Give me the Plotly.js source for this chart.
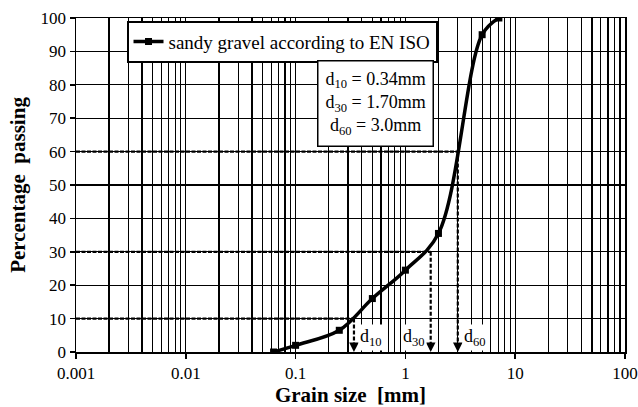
<!DOCTYPE html>
<html>
<head>
<meta charset="utf-8">
<script src="https://cdn.plot.ly/plotly-3.0.1.min.js"></script>
<style>html,body{margin:0;padding:0;background:#fff;}#chart{width:638px;height:407px;}</style>
</head>
<body>
<div id="chart"></div>
<script>
// Sieve data
const grainSize = [0.063, 0.1, 0.25, 0.5, 1, 2, 5, 7.1];
const passing = [0, 2, 6.5, 16, 24.5, 35.5, 95, 100];
const seriesName = 'sandy gravel according to EN ISO';

// Characteristic diameters
const dNames = ['d<sub>10</sub>', 'd<sub>30</sub>', 'd<sub>60</sub>'];
const dValues = [0.34, 1.7, 3.0];
const dLevels = [10, 30, 60];
const dTexts = ['0.34mm', '1.70mm', '3.0mm'];

const xTickVals = [0.001, 0.01, 0.1, 1, 10, 100];
const xTickText = ['0.001', '0.01', '0.1', '1', '10', '100'];

const FONT = 'Liberation Serif';

const traces = [];
// helper dashed lines (horizontal from the y axis, vertical down to the x axis)
dValues.forEach((d, i) => {
  traces.push({
    x: [0.001, d], y: [dLevels[i], dLevels[i]],
    mode: 'lines', line: {color: 'black', width: 2.2, dash: '4px,1.5px'},
    showlegend: false, hoverinfo: 'skip'
  });
  traces.push({
    x: [d, d], y: [dLevels[i], 1.5],
    mode: 'lines', line: {color: 'black', width: 2.2, dash: '4px,2px'},
    showlegend: false, hoverinfo: 'skip'
  });
});
traces.push({
  x: grainSize, y: passing, name: seriesName,
  mode: 'lines+markers',
  line: {color: 'black', width: 3.5, shape: 'spline', smoothing: 1},
  marker: {symbol: 'square', size: 7, color: 'black'}
});

const annotations = [];
dValues.forEach((d, i) => {
  annotations.push({
    x: Math.log10(d), y: 0, xref: 'x', yref: 'y',
    ax: 0, ay: -8, axref: 'pixel', ayref: 'pixel',
    text: '', showarrow: true, arrowhead: 2, arrowsize: 1.2, arrowwidth: 1.6, arrowcolor: 'black'
  });
  const right = (i === 1);
  annotations.push({
    x: Math.log10(d), y: 4.4, xref: 'x', yref: 'y',
    xanchor: right ? 'right' : 'left', yanchor: 'middle',
    xshift: right ? -4 : 4,
    text: dNames[i], showarrow: false, bgcolor: 'white',
    font: {family: FONT, size: 18, color: 'black'}
  });
});
annotations.push({
  x: 0.545, y: 0.7455, xref: 'paper', yref: 'paper',
  xanchor: 'center', yanchor: 'middle', showarrow: false, align: 'center',
  text: dNames.map((n, i) => n + ' = ' + dTexts[i]).join('<br>'),
  bgcolor: 'white', bordercolor: 'black', borderwidth: 1.5, borderpad: 7,
  font: {family: FONT, size: 18, color: 'black'}
});

const layout = {
  width: 638, height: 407,
  margin: {l: 76, r: 13, t: 18, b: 55},
  paper_bgcolor: 'white', plot_bgcolor: 'white',
  font: {family: FONT, size: 16, color: 'black'},
  showlegend: true,
  legend: {
    x: 0.092, y: 0.992, xanchor: 'left', yanchor: 'top',
    bgcolor: 'white', bordercolor: 'black', borderwidth: 2,
    font: {family: FONT, size: 19, color: 'black'},
    itemwidth: 30
  },
  xaxis: {
    type: 'log', range: [-3, 2],
    tickvals: xTickVals, ticktext: xTickText,
    showgrid: true, gridcolor: 'black', gridwidth: 1.3,
    ticks: 'outside', ticklen: 5, tickcolor: 'black', tickwidth: 1.5,
    showline: true, linecolor: 'black', linewidth: 1.5, mirror: true,
    zeroline: false, ticklabeloverflow: 'allow',
    minor: {dtick: 'D1', showgrid: true, gridcolor: 'black', gridwidth: 1.3, ticks: ''},
    tickfont: {family: FONT, size: 17, color: 'black'},
    title: {text: '<b>Grain size  [mm]</b>', font: {family: FONT, size: 21, color: 'black'}, standoff: 5}
  },
  yaxis: {
    range: [0, 100], dtick: 10,
    showgrid: true, gridcolor: 'black', gridwidth: 1.3,
    ticks: 'outside', ticklen: 5, tickcolor: 'black', tickwidth: 1.5,
    showline: true, linecolor: 'black', linewidth: 1.5, mirror: true,
    zeroline: false,
    tickfont: {family: FONT, size: 17, color: 'black'},
    title: {text: '<b>Percentage  passing</b>', font: {family: FONT, size: 21, color: 'black'}, standoff: 9}
  },
  annotations: annotations
};

Plotly.newPlot('chart', traces, layout, {displayModeBar: false, staticPlot: true});
</script>
</body>
</html>
